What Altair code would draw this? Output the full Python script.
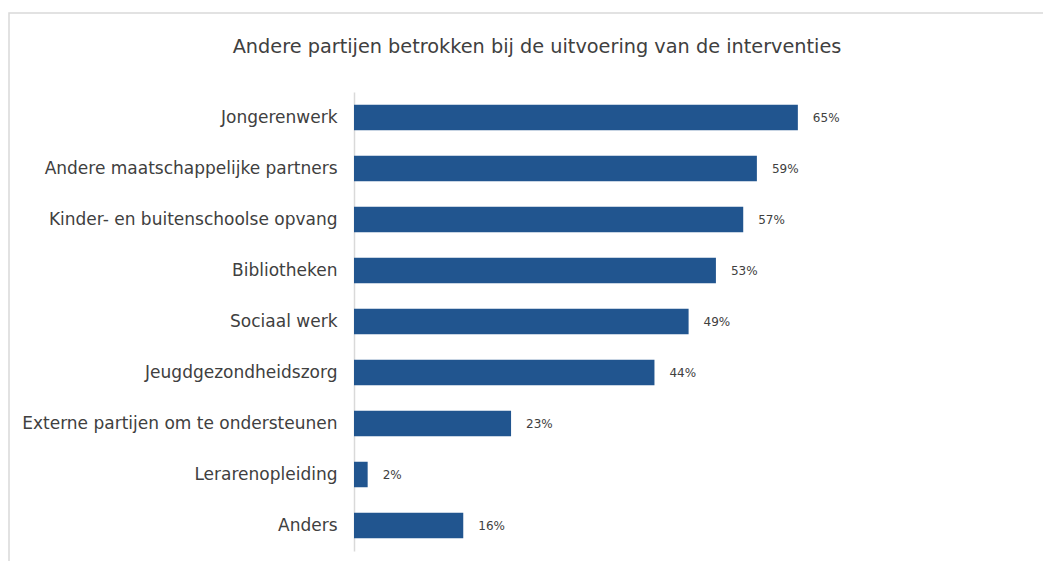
import altair as alt
import pandas as pd

title_text = "Andere partijen betrokken bij de uitvoering van de interventies"
categories = [
    "Jongerenwerk",
    "Andere maatschappelijke partners",
    "Kinder- en buitenschoolse opvang",
    "Bibliotheken",
    "Sociaal werk",
    "Jeugdgezondheidszorg",
    "Externe partijen om te ondersteunen",
    "Lerarenopleiding",
    "Anders",
]
values = [65, 59, 57, 53, 49, 44, 23, 2, 16]
labels = [f"{v}%" for v in values]

df = pd.DataFrame({"cat": categories, "val": values, "lab": labels})

W, H = 478, 459
PAD_L, PAD_T, PAD_R, PAD_B = 346, 84, 211, 10

y_enc = alt.Y(
    "cat:N",
    sort=categories,
    title=None,
    scale=alt.Scale(paddingInner=0.5, paddingOuter=0.25),
    axis=alt.Axis(
        ticks=False,
        labelPadding=17,
        labelFont="DejaVu Sans",
        labelFontSize=17,
        labelColor="#404040",
        domainColor="#d9d9d9",
        domainWidth=1.5,
        labelLimit=400,
    ),
)
x_enc = alt.X(
    "val:Q",
    title=None,
    scale=alt.Scale(domain=[0, 70], nice=False),
    axis=None,
)

bars = alt.Chart(df).mark_bar(color="#21558F").encode(x=x_enc, y=y_enc)

text = alt.Chart(df).mark_text(
    align="left", baseline="middle", dx=15, font="DejaVu Sans", fontSize=12, color="#404040"
).encode(x=x_enc, y=y_enc, text="lab:N")

frame = alt.Chart(pd.DataFrame({"a": [0]})).mark_rect(
    fill=None, stroke="#d9d9d9", strokeWidth=1.5
).encode(
    x=alt.value(-PAD_L + 1),
    x2=alt.value(W + PAD_R + 50),
    y=alt.value(-PAD_T + 5),
    y2=alt.value(H + PAD_B + 50),
)

title = alt.Chart(pd.DataFrame({"t": [title_text]})).mark_text(
    align="center", baseline="middle", font="DejaVu Sans", fontSize=19.3, color="#404040"
).encode(x=alt.value(537 - 8 - PAD_L), y=alt.value(47 - 8 - PAD_T), text="t:N")

chart = (
    alt.layer(frame, title, bars, text)
    .properties(
        width=W,
        height=H,
        padding={"left": PAD_L, "top": PAD_T, "right": PAD_R, "bottom": PAD_B},
        autosize=alt.AutoSizeParams(type="none"),
    )
    .configure_view(stroke=None)
)

chart.save("out.html", embed_options={"renderer": "svg", "actions": False})
